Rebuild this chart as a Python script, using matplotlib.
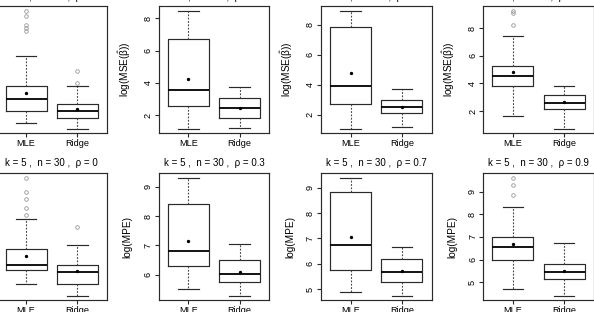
import matplotlib
matplotlib.use("Agg")
import matplotlib.pyplot as plt

plt.rcParams['font.family'] = ['Liberation Sans', 'DejaVu Sans']
plt.rcParams['mathtext.fontset'] = 'custom'
plt.rcParams['mathtext.rm'] = 'Liberation Sans'
plt.rcParams['mathtext.it'] = 'Liberation Sans'
plt.rcParams['mathtext.bf'] = 'Liberation Sans:bold'

groups = ["MLE", "Ridge"]
rhos = ["0", "0.3", "0.7", "0.9"]
titles = [f"k = 5 ,  n = 30 ,  \u03c1 = {r}" for r in rhos]
ylabels = [r"log(MSE($\hat{\beta}$))", "log(MPE)"]

# per panel (row-major: top row = log MSE, bottom row = log MPE), per group [MLE, Ridge]
med = [[0.33, -0.42], [3.53, 2.45], [3.93, 2.48], [4.55, 2.60],
       [6.32, 6.08], [6.80, 6.03], [6.73, 5.69], [6.57, 5.46]]
q1 = [[-0.42, -0.81], [2.56, 1.83], [2.70, 2.12], [3.80, 2.17],
      [6.14, 5.69], [6.28, 5.74], [5.77, 5.29], [5.96, 5.15]]
q3 = [[1.14, 0.02], [6.70, 3.07], [7.82, 3.01], [5.25, 3.16],
      [6.86, 6.33], [8.42, 6.48], [8.82, 6.17], [7.01, 5.81]]
whislo = [[-1.13, -1.50], [1.17, 1.21], [1.07, 1.17], [1.63, 0.72],
          [5.69, 5.28], [5.49, 5.28], [4.87, 4.74], [4.72, 4.41]]
whishi = [[3.02, 1.14], [8.47, 3.73], [8.94, 3.68], [7.44, 3.82],
          [7.90, 7.00], [9.31, 7.05], [9.40, 6.67], [8.30, 6.72]]
means = [[0.73, -0.29], [4.27, 2.45], [4.80, 2.52], [4.82, 2.65],
         [6.65, 6.11], [7.16, 6.09], [7.07, 5.73], [6.68, 5.49]]
fliers = [[[5.89, 5.58, 4.99, 4.80, 4.61], [2.14, 1.35]],
          [[], []], [[], []],
          [[9.28, 9.09, 8.24], []],
          [[9.31, 8.82, 8.59, 8.26, 8.05], [7.62]],
          [[], []], [[], []],
          [[9.61, 9.27, 8.85], []]]
yticks = [[-1, 0, 1, 2, 3, 4, 5], [2, 4, 6, 8], [2, 4, 6, 8], [2, 4, 6, 8],
          [6, 7, 8, 9], [6, 7, 8, 9], [5, 6, 7, 8, 9], [5, 6, 7, 8, 9]]

W, H = 594, 312
fig = plt.figure(figsize=(W / 100, H / 100), dpi=100)

col_left = -3.6
col_step = 162.25
fw = 110.8
row_top = [6.0, 173.0]
fh = 127.3
fs = 6.6
lc = '#2a2a2a'

for p in range(8):
    r, c = divmod(p, 4)
    left = col_left + c * col_step
    top = row_top[r]
    ax = fig.add_axes([left / W, 1 - (top + fh) / H, fw / W, fh / H])
    stats = []
    for g in range(2):
        stats.append(dict(med=med[p][g], q1=q1[p][g], q3=q3[p][g],
                          whislo=whislo[p][g], whishi=whishi[p][g],
                          mean=means[p][g], fliers=fliers[p][g],
                          label=groups[g]))
    ax.bxp(stats, positions=[1, 2], widths=0.8, capwidths=0.4,
           showmeans=True, patch_artist=False,
           boxprops=dict(color=lc, lw=0.85),
           medianprops=dict(color='black', lw=1.3),
           whiskerprops=dict(color='#444444', lw=0.8, linestyle=(0, (1.6, 1.4))),
           capprops=dict(color=lc, lw=0.85),
           flierprops=dict(marker='o', mfc='none', mec='#999999', markersize=2.6, mew=0.6),
           meanprops=dict(marker='o', markersize=1.4, mfc='black', mec='black'))
    lo = min([min(whislo[p])] + [v for f in fliers[p] for v in f])
    hi = max([max(whishi[p])] + [v for f in fliers[p] for v in f])
    pad = 0.04 * (hi - lo)
    ax.set_ylim(lo - pad, hi + pad)
    ax.set_xlim(0.42, 2.58)
    ax.set_yticks(yticks[p])
    ax.set_yticklabels([str(t) for t in yticks[p]], rotation=90, va='center')
    ax.set_xticks([1, 2])
    ax.set_xticklabels(groups)
    ax.tick_params(axis='both', direction='out', length=2.6, width=0.8,
                   labelsize=fs, pad=1.8, color=lc)
    for s in ax.spines.values():
        s.set_color(lc)
        s.set_linewidth(0.85)
    ax.set_ylabel(ylabels[r], fontsize=fs + 0.6)
    ax.yaxis.set_label_coords(-26 / fw, 0.5)
    ax.text(0.5, 1 + 9.5 / fh, titles[c], transform=ax.transAxes,
            ha='center', va='center', fontsize=fs + 0.4)

fig.savefig("out.png", dpi=100)
